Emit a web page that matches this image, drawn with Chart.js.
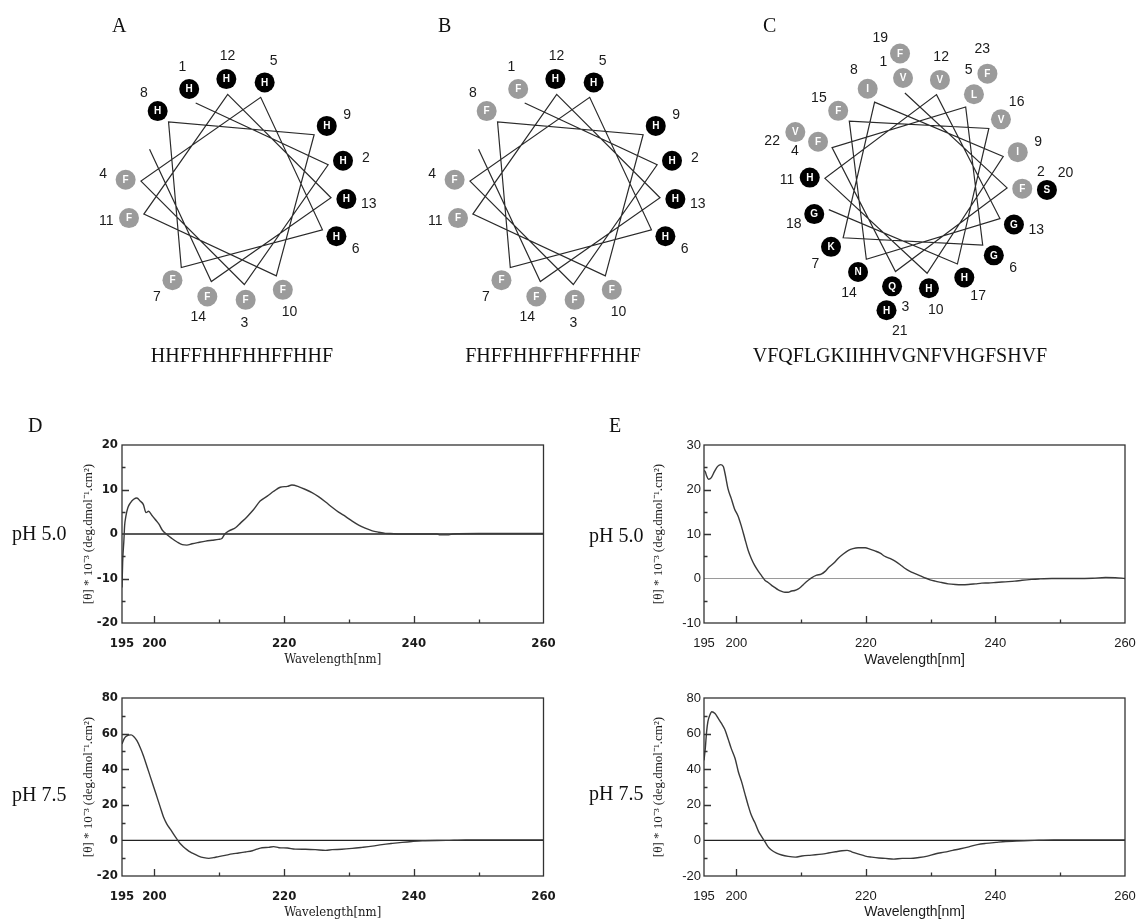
<!DOCTYPE html>
<html>
<head>
<meta charset="utf-8">
<script src="https://cdn.jsdelivr.net/npm/chart.js@4.4.1/dist/chart.umd.min.js"></script>
<style>
body{margin:0;background:#fff;width:1136px;height:921px;position:relative;overflow:hidden;font-family:'Liberation Serif','Times New Roman',serif;color:#111;}
canvas{position:absolute;}
.t{position:absolute;white-space:nowrap;line-height:1;}
.seq{position:absolute;font-size:20px;line-height:1;text-align:center;width:400px;}
</style>
</head>
<body>
<canvas id="wheelA" width="360" height="360" style="left:56px;top:0px"></canvas>
<canvas id="wheelB" width="360" height="360" style="left:385px;top:0px"></canvas>
<canvas id="wheelC" width="400" height="370" style="left:716px;top:0px"></canvas>
<canvas id="cdDTop" width="560" height="245" style="left:0px;top:425px"></canvas>
<canvas id="cdDBot" width="560" height="243" style="left:0px;top:678px"></canvas>
<canvas id="cdETop" width="576" height="245" style="left:560px;top:425px"></canvas>
<canvas id="cdEBot" width="576" height="243" style="left:560px;top:678px"></canvas>

<div class="t" style="left:112px;top:15px;font-size:20px">A</div>
<div class="t" style="left:438px;top:15px;font-size:20px">B</div>
<div class="t" style="left:763px;top:15px;font-size:20px">C</div>
<div class="seq" style="left:42px;top:345px">HHFFHHFHHFFHHF</div>
<div class="seq" style="left:353px;top:345px">FHFFHHFFHFFHHF</div>
<div class="seq" style="left:700px;top:345px">VFQFLGKIIHHVGNFVHGFSHVF</div>
<div class="t" style="left:28px;top:415px;font-size:20px">D</div>
<div class="t" style="left:609px;top:415px;font-size:20px">E</div>
<div class="t" style="left:12px;top:523px;font-size:20px">pH 5.0</div>
<div class="t" style="left:589px;top:525px;font-size:20px">pH 5.0</div>
<div class="t" style="left:12px;top:784px;font-size:20px">pH 7.5</div>
<div class="t" style="left:589px;top:783px;font-size:20px">pH 7.5</div>

<script>
// ---- helical wheels
const seqA = 'HHFFHHFHHFFHHF';
const seqB = 'FHFFHHFFHFFHHF';
const seqC = 'VFQFLGKIIHHVGNFVHGFSHVF';
const hydrophobic = ['F', 'V', 'L', 'I'];

// ---- CD spectra (wavelength nm / [theta]*10^-3)
const xTickMarks = [195, 200, 210, 220, 230, 240, 250, 260];
const xTickLabels = [195, 200, 220, 240, 260];

const dTopNm = [195.0,195.1,195.3,195.4,195.6,195.9,196.3,196.8,197.3,197.8,198.3,198.7,199.1,199.6,200.1,200.7,201.2,201.9,202.7,203.5,204.3,205.0,205.8,206.8,207.9,208.9,209.9,210.4,210.8,211.5,212.5,213.3,214.3,215.3,216.3,217.4,218.4,219.4,220.5,221.2,222.3,223.3,224.3,225.3,226.4,227.4,228.4,229.5,230.5,231.5,232.5,233.6,234.6,235.6,236.4,238.0,243.6,244.0,245.4,246.0,250.0,260.0];
const dTopVal = [-12,-6.4,-1.2,1.8,4.0,5.9,7.0,7.8,8.1,7.4,6.6,4.8,5.1,4.2,3.3,2.2,0.9,-0.1,-1.0,-1.8,-2.4,-2.5,-2.2,-1.9,-1.6,-1.4,-1.2,-1.0,-0.1,0.7,1.4,2.5,3.9,5.5,7.4,8.5,9.6,10.5,10.7,11.0,10.6,10.0,9.3,8.4,7.2,6.0,4.9,3.9,2.9,2.0,1.3,0.7,0.4,0.15,0.1,0,0,-0.2,-0.2,0,0.1,0.1];
const dTopYMarks = [-20,-15,-10,-5,0,5,10,15,20];
const dTopYLabels = [-20,-10,0,10,20];

const dBotNm = [195.0,195.3,195.6,196.0,196.4,196.8,197.3,197.8,198.3,198.9,199.4,199.9,200.4,200.9,201.4,201.9,202.5,203.0,203.5,204.0,204.5,205.0,205.5,206.1,206.8,207.6,208.4,209.1,209.9,210.9,212.0,213.0,214.0,215.1,215.8,216.6,217.6,218.4,219.2,220.5,221.7,223.3,224.8,226.4,227.4,228.9,230.5,232.0,233.6,235.1,236.7,238.2,239.7,241.3,245.0,248.0,260.0];
const dBotVal = [54.1,56.9,58.4,59.1,59.3,58.4,56.0,52.2,47.6,41.0,35.4,29.9,24.3,18.7,13.1,9.3,6.0,3.2,0.6,-1.9,-3.7,-5.2,-6.5,-7.6,-8.8,-9.7,-10.1,-9.7,-9.1,-8.4,-7.6,-7.1,-6.5,-5.8,-4.9,-4.1,-3.9,-3.5,-4.1,-4.3,-4.9,-5.0,-5.2,-5.6,-5.2,-5.0,-4.5,-3.9,-3.2,-2.4,-1.7,-1.1,-0.6,-0.2,0,0.3,0.3];
const botYMarks = [-20,-10,0,10,20,30,40,50,60,70,80];
const botYLabels = [-20,0,20,40,60,80];

const eTopNm = [195.0,195.2,195.4,195.7,196.1,196.6,197.1,197.6,198.0,198.3,198.7,199.2,199.7,200.3,200.8,201.3,201.8,202.3,202.8,203.4,203.9,204.4,204.9,205.4,205.9,206.4,207.0,207.5,208.0,208.5,209.0,209.5,210.1,210.6,211.1,211.6,212.4,213.1,213.7,214.2,215.0,215.7,216.5,217.3,218.0,218.8,219.9,220.6,221.4,222.2,222.9,223.7,224.5,225.3,226.0,226.8,227.6,228.4,229.1,229.9,230.7,231.7,232.7,233.8,234.8,235.8,236.9,237.9,238.9,240.0,241.5,243.0,244.1,245.6,246.7,248.7,252.0,255.0,257.0,258.5,260.0];
const eTopVal = [24.3,24.0,23.1,22.3,22.6,24.0,25.2,25.6,25.1,23.2,20.2,18.0,15.7,13.9,11.6,9.0,6.4,4.5,3.0,1.6,0.6,-0.4,-0.9,-1.5,-2.0,-2.5,-2.9,-3.1,-3.1,-2.8,-2.7,-2.4,-1.7,-1.0,-0.4,0.15,0.75,1.0,1.6,2.4,3.4,4.5,5.5,6.3,6.7,6.9,6.9,6.6,6.2,5.7,5.0,4.5,3.9,3.1,2.3,1.6,1.1,0.6,0.15,-0.3,-0.6,-0.9,-1.2,-1.35,-1.4,-1.35,-1.2,-1.05,-1.0,-0.9,-0.75,-0.6,-0.4,-0.2,-0.1,0,0,0.05,0.25,0.2,0];
const eTopYMarks = [-10,-5,0,5,10,15,20,25,30];
const eTopYLabels = [-10,0,10,20,30];

const eBotNm = [195.0,195.2,195.4,195.6,195.9,196.2,196.7,197.2,197.7,198.2,198.7,199.2,199.8,200.3,200.8,201.3,201.8,202.3,202.9,203.4,203.9,204.4,204.9,205.4,206.2,207.0,208.0,209.1,210.1,211.1,212.2,213.2,214.2,215.3,216.3,217.1,217.8,218.9,219.9,220.9,222.0,223.0,224.3,225.6,226.9,228.2,229.5,230.8,232.1,233.4,234.6,235.9,237.2,238.5,240.1,241.6,243.2,246.0,249.0,260.0];
const eBotVal = [45,51.7,61,66.7,70.4,72.3,71.3,68.5,65.7,62.4,57.3,51.7,46.0,38.6,33.0,26.4,19.9,14.2,9.6,5.2,2.1,-0.7,-3.6,-5.4,-7.1,-8.2,-9.0,-9.4,-8.8,-8.4,-8.1,-7.7,-7.1,-6.4,-5.8,-5.6,-6.4,-7.7,-8.8,-9.4,-9.9,-10.1,-10.5,-10.1,-10.1,-9.6,-8.8,-7.5,-6.6,-5.6,-4.7,-3.6,-2.4,-1.7,-1.1,-0.6,-0.4,0,0.3,0.3];

const yTitle = '[θ] * 10⁻³ (deg.dmol⁻¹.cm²)';

// ---------- wheel drawing
const residueLabels = {
  id: 'residueLabels',
  afterDatasetsDraw(chart) {
    const ctx = chart.ctx;
    const meta = chart.getDatasetMeta(1);
    const pts = chart.data.datasets[1].data;
    ctx.save();
    ctx.textAlign = 'center';
    ctx.textBaseline = 'middle';
    meta.data.forEach((el, i) => {
      const p = pts[i];
      ctx.font = 'bold 10px "Liberation Sans", Arial, sans-serif';
      ctx.fillStyle = '#fff';
      ctx.fillText(p.aa, el.x, el.y + 0.5);
      ctx.font = '14px "Liberation Sans", Arial, sans-serif';
      ctx.fillStyle = '#1a1a1a';
      ctx.fillText(String(p.num), el.x + p.ld * Math.cos(p.la), el.y - p.ld * Math.sin(p.la));
    });
    ctx.restore();
  }
};

function wheel(id, seq, w) {
  const cv = document.getElementById(id);
  const W = cv.width, H = cv.height;
  const rad = d => d * Math.PI / 180;
  const pts = seq.split('').map((aa, i) => {
    const a = rad(w.start - 100 * i);
    const outer = i >= 18;
    const stacked = outer || i + 18 < seq.length;
    const r = outer ? w.rOuter : w.r;
    return {x: r * Math.cos(a), y: r * Math.sin(a), aa, num: i + 1,
            la: a + rad(stacked ? 45 : w.labelRot), ld: stacked ? 25 : 23};
  });
  const spiral = [];
  for (let i = 0; i < w.lineEnd; i++) {
    const a = rad(w.start - 100 * i);
    spiral.push({x: w.rIn * Math.cos(a), y: w.rIn * Math.sin(a)});
  }
  new Chart(cv, {
    type: 'scatter',
    data: {datasets: [
      {data: spiral, showLine: true, borderColor: '#2a2a2a', borderWidth: 1.2, pointRadius: 0, tension: 0, clip: false},
      {data: pts, pointRadius: 10, pointHoverRadius: 10, pointBorderWidth: 0, pointBorderColor: 'rgba(0,0,0,0)',
       pointBackgroundColor: pts.map(p => hydrophobic.includes(p.aa) ? '#9b9b9b' : '#000'), clip: false}
    ]},
    options: {
      responsive: false, animation: false, events: [],
      layout: {padding: 0},
      plugins: {legend: {display: false}, tooltip: {enabled: false}},
      scales: {
        x: {type: 'linear', display: false, min: -w.cx, max: W - w.cx},
        y: {type: 'linear', display: false, min: -(H - w.cy), max: w.cy}
      }
    },
    plugins: [residueLabels]
  });
}

wheel('wheelA', seqA, {cx: 180, cy: 190, start: 115, r: 117.3, rOuter: 140, rIn: 101, lineEnd: 15, labelRot: -8});
wheel('wheelB', seqB, {cx: 180, cy: 190, start: 115, r: 117.3, rOuter: 140, rIn: 101, lineEnd: 15, labelRot: -8});
wheel('wheelC', seqC, {cx: 200, cy: 183, start: 97, r: 112, rOuter: 138, rIn: 96, lineEnd: 18, labelRot: 10});

// ---------- CD spectra
const cdFrame = {
  id: 'cdFrame',
  beforeDatasetsDraw(chart, args, o) {
    const {ctx, chartArea: a, scales: {y}} = chart;
    const y0 = y.getPixelForValue(0);
    ctx.save();
    ctx.strokeStyle = o.zeroColor;
    ctx.lineWidth = o.zeroWidth;
    ctx.beginPath(); ctx.moveTo(a.left, y0); ctx.lineTo(a.right, y0); ctx.stroke();
    ctx.restore();
  },
  afterDatasetsDraw(chart, args, o) {
    const {ctx, chartArea: a, scales: {x, y}} = chart;
    ctx.save();
    ctx.strokeStyle = '#333';
    ctx.lineWidth = 1.3;
    ctx.strokeRect(a.left, a.top, a.right - a.left, a.bottom - a.top);
    ctx.beginPath();
    xTickMarks.forEach(v => {
      if (v === x.min || v === x.max) return;
      const px = Math.round(x.getPixelForValue(v)) + 0.5;
      const len = xTickLabels.includes(v) ? 7 : 3.5;
      ctx.moveTo(px, a.bottom); ctx.lineTo(px, a.bottom - len);
    });
    y.ticks.forEach(t => {
      if (t.value === y.min || t.value === y.max || t.value === 0) return;
      const py = Math.round(y.getPixelForValue(t.value)) + 0.5;
      const len = o.yLabels.includes(t.value) ? 7 : 3.5;
      ctx.moveTo(a.left, py); ctx.lineTo(a.left + len, py);
    });
    ctx.stroke();
    ctx.restore();
  }
};

function cd(id, nm, val, o) {
  new Chart(document.getElementById(id), {
    type: 'line',
    data: {datasets: [{
      data: nm.map((x, i) => ({x, y: val[i]})),
      borderColor: '#3a3a3a', borderWidth: 1.4, pointRadius: 0,
      cubicInterpolationMode: 'monotone', fill: false
    }]},
    options: {
      responsive: false, animation: false, events: [],
      layout: {padding: {left: 0, top: o.padTop, right: o.padRight, bottom: 0}},
      plugins: {legend: {display: false}, tooltip: {enabled: false},
                cdFrame: {zeroColor: o.zeroColor, zeroWidth: o.zeroWidth, yLabels: o.yLabels}},
      scales: {
        x: {
          type: 'linear', min: 195, max: 260,
          // tickLength only pushes the labels down; the grid itself is hidden
          grid: {display: false, drawTicks: true, tickLength: 13}, border: {display: false},
          afterBuildTicks: s => { s.ticks = xTickMarks.map(v => ({value: v})); },
          afterFit: s => { s.height = o.xH; },
          ticks: {autoSkip: false, maxRotation: 0, padding: 0, color: '#1a1a1a', font: o.tickFont,
                  callback: v => xTickLabels.includes(v) ? String(v) : ''},
          title: {display: true, text: 'Wavelength[nm]', color: '#1a1a1a', font: o.xTitleFont,
                  padding: {top: 0, bottom: o.xTitlePad}}
        },
        y: {
          type: 'linear', min: o.yMarks[0], max: o.yMarks[o.yMarks.length - 1],
          grid: {display: false, drawTicks: false}, border: {display: false},
          afterBuildTicks: s => { s.ticks = o.yMarks.map(v => ({value: v})); },
          afterFit: s => { s.width = o.yW; },
          ticks: {autoSkip: false, padding: o.yPad, color: '#1a1a1a', font: o.tickFont,
                  callback: v => o.yLabels.includes(v) ? String(v) : ''},
          title: {display: true, text: yTitle, color: '#1a1a1a',
                  font: {family: '"Liberation Serif", "Times New Roman", serif', size: 13, lineHeight: 1.2},
                  padding: {top: o.yTitleX - 7.8, bottom: 0}}
        }
      }
    },
    plugins: [cdFrame]
  });
}

const narrow = {family: '"Liberation Sans Narrow", "DejaVu Sans Condensed", sans-serif', size: 13, weight: 'bold'};
const arial = {family: '"Liberation Sans", Arial, sans-serif', size: 13};
const dTitle = {family: '"DejaVu Serif Condensed", "DejaVu Serif", serif', size: 13, lineHeight: 1.2};
const eTitle = {family: '"Liberation Sans", Arial, sans-serif', size: 14, lineHeight: 1.2};

cd('cdDTop', dTopNm, dTopVal, {padTop: 20, padRight: 16.5, xH: 47, yW: 122, yPad: 4, yTitleX: 89,
  yMarks: dTopYMarks, yLabels: dTopYLabels, tickFont: narrow, xTitleFont: dTitle, xTitlePad: 2.2,
  zeroColor: '#222', zeroWidth: 1.3});
cd('cdDBot', dBotNm, dBotVal, {padTop: 20, padRight: 16.5, xH: 45, yW: 122, yPad: 4, yTitleX: 89,
  yMarks: botYMarks, yLabels: botYLabels, tickFont: narrow, xTitleFont: dTitle, xTitlePad: 0.5,
  zeroColor: '#222', zeroWidth: 1.3});
cd('cdETop', eTopNm, eTopVal, {padTop: 20, padRight: 11, xH: 47, yW: 144, yPad: 3, yTitleX: 99,
  yMarks: eTopYMarks, yLabels: eTopYLabels, tickFont: arial, xTitleFont: eTitle, xTitlePad: 1.5,
  zeroColor: '#9a9a9a', zeroWidth: 1});
cd('cdEBot', eBotNm, eBotVal, {padTop: 20, padRight: 11, xH: 45, yW: 144, yPad: 3, yTitleX: 99,
  yMarks: botYMarks, yLabels: botYLabels, tickFont: arial, xTitleFont: eTitle, xTitlePad: 0,
  zeroColor: '#222', zeroWidth: 1.2});
</script>
</body>
</html>
